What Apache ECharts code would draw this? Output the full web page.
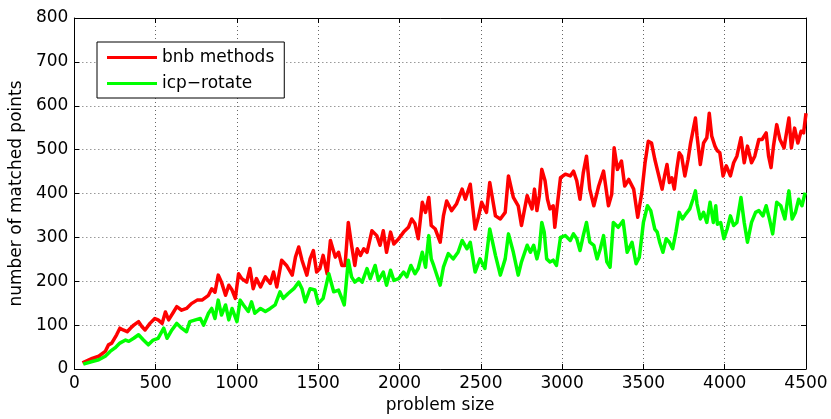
<!DOCTYPE html>
<html>
<head>
<meta charset="utf-8">
<script src="https://cdn.jsdelivr.net/npm/echarts@6/dist/echarts.min.js"></script>
<style>
  html, body { margin: 0; padding: 0; background: #fff; }
  #chart { width: 831px; height: 419px; }
</style>
</head>
<body>
<div id="chart"></div>
<script>
// [problem size, matched points]
const bnbPoints = [
  [50, 14], [110, 24], [150, 29], [190, 40], [210, 55], [230, 59], [260, 78], [280, 93], [300, 89],
  [325, 85], [345, 93], [365, 100], [395, 108], [415, 97], [435, 89], [465, 104], [495, 115], [515, 112],
  [540, 104], [560, 130], [580, 112], [610, 130], [630, 142], [660, 134], [690, 138], [720, 149],
  [755, 157], [785, 157], [825, 168], [845, 183], [865, 175], [885, 214], [905, 198], [930, 168],
  [950, 191], [970, 180], [990, 161], [1010, 217], [1030, 206], [1060, 198], [1080, 229], [1100, 183],
  [1120, 206], [1145, 187], [1175, 210], [1205, 195], [1225, 221], [1245, 187], [1275, 248], [1305, 236],
  [1340, 214], [1360, 255], [1380, 278], [1400, 248], [1430, 214], [1450, 251], [1470, 270], [1490, 221],
  [1510, 229], [1530, 259], [1555, 217], [1575, 293], [1605, 255], [1625, 266], [1645, 236], [1665, 236],
  [1685, 334], [1705, 282], [1725, 236], [1740, 274], [1760, 259], [1780, 274], [1800, 266], [1830, 315],
  [1860, 304], [1880, 282], [1900, 315], [1920, 266], [1945, 312], [1965, 285], [1995, 297], [2025, 312],
  [2055, 323], [2075, 342], [2095, 331], [2115, 297], [2140, 380], [2160, 357], [2180, 391], [2195, 327],
  [2220, 319], [2250, 289], [2270, 349], [2290, 383], [2320, 361], [2350, 376], [2385, 410], [2405, 387],
  [2435, 421], [2465, 319], [2485, 346], [2505, 380], [2535, 357], [2555, 425], [2590, 349], [2620, 342],
  [2650, 357], [2670, 440], [2700, 391], [2730, 372], [2750, 327], [2785, 395], [2800, 380], [2815, 365],
  [2830, 410], [2845, 361], [2860, 395], [2875, 455], [2895, 429], [2910, 387], [2925, 365], [2945, 372],
  [2955, 323], [2970, 372], [2990, 436], [3020, 444], [3050, 440], [3070, 451], [3090, 429], [3110, 387],
  [3130, 447], [3150, 485], [3170, 410], [3195, 372], [3225, 417], [3255, 451], [3285, 372], [3305, 398],
  [3320, 504], [3340, 455], [3365, 474], [3385, 417], [3410, 432], [3440, 410], [3465, 346], [3490, 402],
  [3510, 470], [3530, 519], [3550, 515], [3570, 478], [3600, 432], [3615, 410], [3630, 440], [3645, 466],
  [3660, 425], [3675, 436], [3690, 410], [3705, 455], [3720, 493], [3735, 485], [3755, 440], [3775, 478],
  [3790, 515], [3810, 553], [3820, 572], [3830, 531], [3850, 466], [3870, 515], [3890, 527], [3905, 583],
  [3920, 531], [3940, 508], [3955, 497], [3970, 493], [3990, 440], [4010, 463], [4035, 440], [4055, 470],
  [4075, 485], [4100, 527], [4120, 470], [4140, 508], [4165, 470], [4185, 485], [4210, 523], [4230, 523],
  [4255, 538], [4270, 485], [4285, 459], [4300, 508], [4320, 557], [4340, 523], [4365, 504], [4395, 572],
  [4410, 504], [4430, 549], [4450, 515], [4470, 542], [4485, 538], [4500, 583]
];

const icpPoints = [
  [55, 11], [110, 17], [150, 21], [190, 29], [220, 40], [250, 48], [280, 59], [315, 66], [335, 63],
  [365, 70], [395, 78], [425, 66], [455, 55], [485, 66], [515, 70], [550, 93], [570, 70], [600, 89],
  [630, 104], [660, 93], [690, 85], [710, 108], [745, 112], [775, 115], [795, 100], [825, 127], [845, 138],
  [865, 115], [885, 157], [905, 123], [930, 146], [950, 112], [970, 138], [1000, 108], [1020, 157],
  [1040, 146], [1070, 131], [1090, 153], [1110, 127], [1145, 138], [1175, 131], [1205, 138], [1235, 146],
  [1265, 176], [1285, 161], [1315, 172], [1350, 183], [1380, 198], [1400, 183], [1420, 153], [1450, 183],
  [1480, 180], [1500, 149], [1530, 161], [1565, 217], [1595, 176], [1625, 180], [1645, 161], [1660, 146],
  [1685, 248], [1705, 210], [1725, 198], [1750, 206], [1770, 198], [1800, 229], [1820, 206], [1850, 236],
  [1870, 202], [1900, 221], [1920, 191], [1945, 225], [1965, 202], [1995, 206], [2025, 221], [2045, 210],
  [2070, 236], [2095, 217], [2115, 229], [2140, 266], [2160, 232], [2180, 304], [2195, 251], [2210, 236],
  [2250, 191], [2270, 232], [2300, 263], [2330, 251], [2360, 266], [2385, 293], [2415, 274], [2435, 289],
  [2465, 221], [2495, 251], [2525, 229], [2555, 319], [2590, 259], [2620, 214], [2650, 251], [2670, 308],
  [2700, 266], [2730, 214], [2750, 244], [2785, 282], [2805, 266], [2825, 282], [2845, 251], [2860, 274],
  [2875, 334], [2890, 312], [2905, 251], [2925, 244], [2945, 248], [2965, 236], [2980, 274], [2990, 300],
  [3020, 304], [3050, 293], [3070, 308], [3090, 297], [3110, 270], [3130, 304], [3150, 334], [3170, 289],
  [3195, 282], [3215, 251], [3235, 274], [3255, 304], [3275, 244], [3295, 232], [3315, 334], [3345, 323],
  [3375, 338], [3400, 266], [3430, 289], [3455, 240], [3475, 255], [3500, 334], [3525, 372], [3545, 361],
  [3570, 319], [3585, 312], [3600, 289], [3620, 266], [3640, 297], [3660, 289], [3680, 274], [3700, 312],
  [3720, 357], [3740, 342], [3760, 353], [3785, 365], [3805, 387], [3820, 406], [3830, 376], [3850, 342],
  [3870, 357], [3890, 334], [3910, 380], [3930, 334], [3945, 372], [3955, 330], [3975, 334], [3995, 297],
  [4015, 319], [4035, 349], [4055, 327], [4075, 334], [4100, 391], [4120, 334], [4140, 289], [4165, 334],
  [4190, 357], [4210, 361], [4235, 349], [4255, 372], [4275, 342], [4295, 308], [4320, 380], [4345, 372],
  [4370, 342], [4395, 406], [4415, 342], [4435, 357], [4455, 387], [4475, 372], [4495, 402]
];

const seriesNames = ['bnb methods', 'icp\u2212rotate'];
const seriesColors = ['#ff0000', '#00ff00'];

const FONT = 'DejaVu Sans';
const dotted = { show: true, lineStyle: { color: '#666', width: 1, type: [1, 3] } };
const blackLine = { show: true, onZero: false, lineStyle: { color: '#000', width: 1 } };
const tickIn = { show: true, inside: true, length: 5, lineStyle: { color: '#000' } };
const plainNum = v => String(v);

const chart = echarts.init(document.getElementById('chart'));

const option = {
  animation: false,
  backgroundColor: '#fff',
  textStyle: { fontFamily: FONT },
  grid: { left: 72, right: 25, top: 18, bottom: 48, containLabel: false },
  legend: {
    left: 97,
    top: 42,
    orient: 'vertical',
    data: seriesNames,
    icon: 'rect',
    itemWidth: 50,
    itemHeight: 3,
    itemGap: 9,
    padding: [7, 10, 6, 10],
    borderColor: '#000',
    borderWidth: 1,
    backgroundColor: '#fff',
    textStyle: { fontFamily: FONT, fontSize: 17, color: '#000' }
  },
  xAxis: [
    {
      type: 'value', min: 0, max: 4500, interval: 500, position: 'bottom',
      name: 'problem size', nameLocation: 'middle', nameGap: 28,
      nameTextStyle: { fontFamily: FONT, fontSize: 17, color: '#000' },
      axisLine: blackLine, axisTick: tickIn,
      axisLabel: { fontFamily: FONT, fontSize: 17, color: '#000', margin: 6, formatter: plainNum },
      splitLine: dotted
    },
    {
      type: 'value', min: 0, max: 4500, interval: 500, position: 'top',
      axisLine: blackLine, axisTick: tickIn, axisLabel: { show: false }, splitLine: { show: false }
    }
  ],
  yAxis: [
    {
      type: 'value', min: 0, max: 800, interval: 100, position: 'left',
      name: 'number of matched points', nameLocation: 'middle', nameGap: 46,
      nameTextStyle: { fontFamily: FONT, fontSize: 17, color: '#000' },
      axisLine: blackLine, axisTick: tickIn,
      axisLabel: { fontFamily: FONT, fontSize: 17, color: '#000', margin: 6, formatter: plainNum },
      splitLine: dotted
    },
    {
      type: 'value', min: 0, max: 800, interval: 100, position: 'right',
      axisLine: blackLine, axisTick: tickIn, axisLabel: { show: false }, splitLine: { show: false }
    }
  ],
  series: [
    {
      name: seriesNames[0], type: 'line', data: bnbPoints,
      showSymbol: false, color: seriesColors[0],
      lineStyle: { width: 3.5, color: seriesColors[0], join: 'round' }
    },
    {
      name: seriesNames[1], type: 'line', data: icpPoints,
      showSymbol: false, color: seriesColors[1],
      lineStyle: { width: 3.5, color: seriesColors[1], join: 'round' }
    }
  ]
};

chart.setOption(option);
</script>
</body>
</html>
